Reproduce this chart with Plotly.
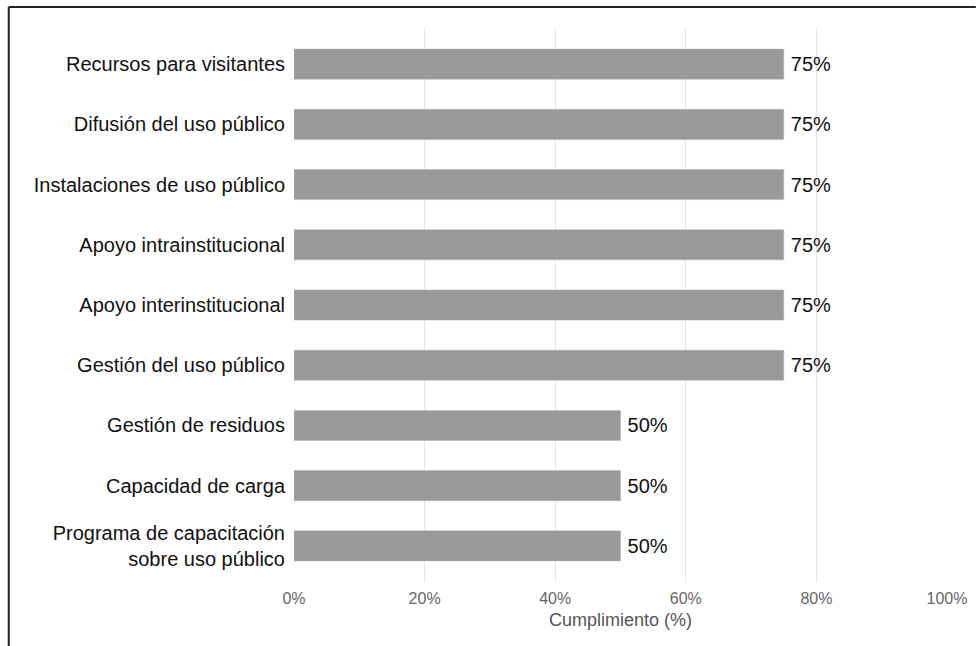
import plotly.graph_objects as go

categories = [
    "Recursos para visitantes",
    "Difusión del uso público",
    "Instalaciones de uso público",
    "Apoyo intrainstitucional",
    "Apoyo interinstitucional",
    "Gestión del uso público",
    "Gestión de residuos",
    "Capacidad de carga",
    "Programa de capacitación<br>sobre uso público",
]
values = [75, 75, 75, 75, 75, 75, 50, 50, 50]
tick_vals = [0, 20, 40, 60, 80, 100]
tick_text = ["0%", "20%", "40%", "60%", "80%", "100%"]

fig = go.Figure(go.Bar(
    x=values, y=categories, orientation="h",
    marker=dict(color="#999999", line=dict(color="#b0b0b0", width=0.5)),
    width=0.5,
    text=[f"\u2009{v}%" for v in values], textposition="outside",
    textfont=dict(size=20, color="#111111", family="Liberation Sans"),
    cliponaxis=False,
))

L, R, T, B = 294, 28, 28, 64
W, H = 979, 646
pw, ph = W - L - R, H - T - B
def px(x): return (x - L) / pw
def py(y): return (H - B - y) / ph

fig.update_layout(
    width=W, height=H,
    margin=dict(l=L, r=R, t=T, b=B),
    plot_bgcolor="white", paper_bgcolor="white",
    font=dict(family="Liberation Sans", size=20, color="#111111"),
    showlegend=False,
    bargap=0.5,
    xaxis=dict(
        range=[0, 100], tickvals=tick_vals, ticktext=tick_text,
        showgrid=True, gridcolor="#e6e6e6", gridwidth=1,
        zeroline=False, showline=False, ticks="",
        ticklabelstandoff=5,
        tickfont=dict(size=16, color="#666666"),
        title=dict(text="Cumplimiento (%)", font=dict(size=18, color="#555555"), standoff=7),
    ),
    yaxis=dict(
        categoryorder="array", categoryarray=categories[::-1],
        range=[-0.6, 8.6], showgrid=False, zeroline=False, ticks="",
        ticklabelstandoff=8,
        tickfont=dict(size=20, color="#111111"),
    ),
    shapes=[
        dict(type="line", xref="paper", yref="paper",
             x0=px(7), x1=px(980), y0=py(7), y1=py(7),
             line=dict(color="#222222", width=2)),
        dict(type="line", xref="paper", yref="paper",
             x0=px(7), x1=px(7), y0=py(7), y1=py(647),
             line=dict(color="#222222", width=2)),
    ],
)
fig.write_html("out.html", config={"displayModeBar": False},
               post_script="document.body.style.margin='0';")
